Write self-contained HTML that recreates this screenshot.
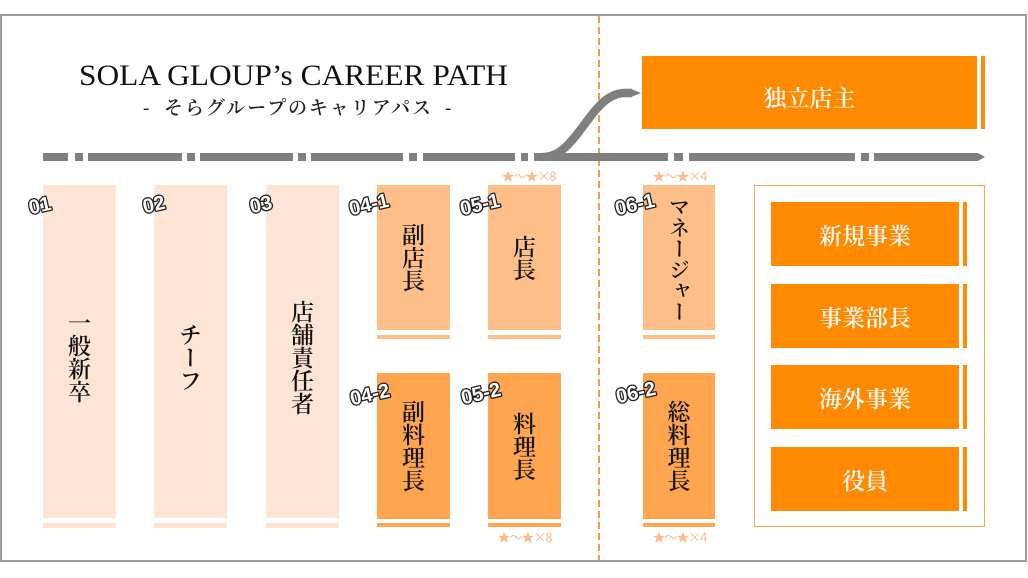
<!DOCTYPE html>
<html lang="ja">
<head>
<meta charset="utf-8">
<style>
  html,body{margin:0;padding:0;}
  body{width:1028px;height:578px;background:#fff;position:relative;overflow:hidden;
       font-family:"Liberation Serif","Noto Serif CJK SC",serif;}
  .frame{position:absolute;left:0;top:14px;width:1027px;height:548px;box-sizing:border-box;
         border:2px solid #9c9c9c;}
  .col{position:absolute;display:flex;align-items:center;justify-content:center;box-sizing:border-box;}
  .vt{writing-mode:vertical-rl;text-orientation:mixed;font-family:"Noto Serif CJK SC","Liberation Serif",serif;
      font-size:23px;color:#111;line-height:1;letter-spacing:0;font-weight:600;}
  .c0{background:#FDE4D5;}
  .c1{background:#FEBE88;}
  .c2{background:#FEA54F;}
  .ob{position:absolute;background:#FF8A00;display:flex;align-items:center;justify-content:center;
      color:#fff;font-family:"Noto Serif CJK SC","Liberation Serif",serif;font-size:23px;line-height:1;font-weight:600;}
  .bar{position:absolute;}
  svg{position:absolute;left:0;top:0;}
</style>
</head>
<body>
<div class="frame"></div>

<!-- columns 01-03 -->
<div class="col c0" style="left:43px;top:185px;width:73px;height:333px;padding-top:11px;"><span class="vt">一般新卒</span></div>
<div class="bar c0" style="left:43px;top:523px;width:73px;height:5px;"></div>
<div class="col c0" style="left:154px;top:185px;width:73px;height:333px;padding-top:11px;"><span class="vt">チーフ</span></div>
<div class="bar c0" style="left:154px;top:523px;width:73px;height:5px;"></div>
<div class="col c0" style="left:266px;top:185px;width:73px;height:333px;padding-top:11px;"><span class="vt">店舗責任者</span></div>
<div class="bar c0" style="left:266px;top:523px;width:73px;height:5px;"></div>

<!-- 04 -->
<div class="col c1" style="left:377px;top:185px;width:73px;height:145px;"><span class="vt">副店長</span></div>
<div class="bar c1" style="left:377px;top:335px;width:73px;height:4px;"></div>
<div class="col c2" style="left:377px;top:373px;width:73px;height:146px;"><span class="vt">副料理長</span></div>
<div class="bar c2" style="left:377px;top:523px;width:73px;height:4px;"></div>

<!-- 05 -->
<div class="col c1" style="left:488px;top:185px;width:73px;height:145px;"><span class="vt">店長</span></div>
<div class="bar c1" style="left:488px;top:335px;width:73px;height:4px;"></div>
<div class="col c2" style="left:488px;top:373px;width:73px;height:146px;"><span class="vt">料理長</span></div>
<div class="bar c2" style="left:488px;top:523px;width:73px;height:4px;"></div>

<!-- 06 -->
<div class="col c1" style="left:643px;top:185px;width:72px;height:145px;padding-top:3px;"><span class="vt" style="font-size:21px;">マネージャー</span></div>
<div class="bar c1" style="left:643px;top:335px;width:72px;height:4px;"></div>
<div class="col c2" style="left:643px;top:373px;width:72px;height:146px;"><span class="vt">総料理長</span></div>
<div class="bar c2" style="left:643px;top:523px;width:72px;height:4px;"></div>

<!-- 独立店主 -->
<div class="ob" style="left:642px;top:56px;width:335px;height:73px;padding-top:8px;box-sizing:border-box;">独立店主</div>
<div class="bar" style="left:981px;top:56px;width:4px;height:73px;background:#FF8A00;"></div>

<!-- right group -->
<div style="position:absolute;left:754px;top:185px;width:231px;height:342px;box-sizing:border-box;border:1.5px solid #F8A452;"></div>
<div class="ob" style="left:771px;top:202px;width:188px;height:64px;">新規事業</div>
<div class="bar" style="left:963px;top:202px;width:4px;height:64px;background:#FF8A00;"></div>
<div class="ob" style="left:771px;top:284px;width:188px;height:64px;">事業部長</div>
<div class="bar" style="left:963px;top:284px;width:4px;height:64px;background:#FF8A00;"></div>
<div class="ob" style="left:771px;top:365px;width:188px;height:64px;">海外事業</div>
<div class="bar" style="left:963px;top:365px;width:4px;height:64px;background:#FF8A00;"></div>
<div class="ob" style="left:771px;top:447px;width:188px;height:64px;">役員</div>
<div class="bar" style="left:963px;top:447px;width:4px;height:64px;background:#FF8A00;"></div>

<svg width="1028" height="578" viewBox="0 0 1028 578" xmlns="http://www.w3.org/2000/svg">
  <!-- dashed divider -->
  <line x1="599" y1="16" x2="599" y2="560" stroke="#F59B3F" stroke-width="2" stroke-dasharray="7 4"/>

  <!-- title -->
  <text x="79" y="85" font-family="Liberation Serif, serif" font-size="30" fill="#111" textLength="429" lengthAdjust="spacingAndGlyphs">SOLA GLOUP’s CAREER PATH</text>
  <text x="143" y="114" font-family="Liberation Serif, serif" font-size="19" fill="#222">-</text>
  <text x="164" y="114" font-family="Noto Serif CJK SC, serif" font-weight="600" font-size="19" fill="#222" textLength="267">そらグループのキャリアパス</text>
  <text x="445" y="114" font-family="Liberation Serif, serif" font-size="19" fill="#222">-</text>

  <!-- timeline -->
  <g fill="#7F7F7F">
    <rect x="43" y="153" width="25" height="8"/>
    <rect x="75" y="153" width="8" height="8"/>
    <rect x="88" y="153" width="94" height="8"/>
    <rect x="187" y="153" width="8" height="8"/>
    <rect x="200" y="153" width="93" height="8"/>
    <rect x="298" y="153" width="8" height="8"/>
    <rect x="311" y="153" width="92" height="8"/>
    <rect x="409" y="153" width="8" height="8"/>
    <rect x="423" y="153" width="92" height="8"/>
    <rect x="521" y="153" width="7" height="8"/>
    <rect x="534" y="153" width="134" height="8"/>
    <rect x="674" y="153" width="9" height="8"/>
    <rect x="689" y="153" width="166" height="8"/>
    <rect x="861" y="153" width="8" height="8"/>
    <polygon points="874,153 978,153 985,157 978,161 874,161"/>
    <polygon points="630,88.5 641,93 630,97.5"/>
  </g>
  <path d="M 543 157 C 578 157, 590 93, 625 93 L 632 93" fill="none" stroke="#7F7F7F" stroke-width="8.5"/>

  <!-- star ratings -->
  <g font-family="Noto Sans CJK JP, sans-serif" font-size="13" fill="#FDB987" text-anchor="middle">
    <text x="529" y="181" textLength="55">★〜★×8</text>
    <text x="525" y="542" textLength="55">★〜★×8</text>
    <text x="680" y="181" textLength="55">★〜★×4</text>
    <text x="680" y="542" textLength="55">★〜★×4</text>
  </g>

  <!-- number labels -->
  <g font-family="Liberation Sans, sans-serif" font-weight="bold" font-size="20" fill="#fff" stroke="#222" stroke-width="2.6" stroke-linejoin="round" paint-order="stroke" text-anchor="middle" dominant-baseline="central">
    <text x="40" y="206" transform="rotate(-13 40 206)">01</text>
    <text x="154" y="205" transform="rotate(-13 154 205)">02</text>
    <text x="261" y="205" transform="rotate(-13 261 205)">03</text>
    <text x="369" y="205" transform="rotate(-13 369 205)">04-1</text>
    <text x="480" y="205" transform="rotate(-13 480 205)">05-1</text>
    <text x="370" y="395" transform="rotate(-13 370 395)">04-2</text>
    <text x="481" y="394" transform="rotate(-13 481 394)">05-2</text>
    <text x="635" y="205" transform="rotate(-13 635 205)">06-1</text>
    <text x="636" y="393" transform="rotate(-13 636 393)">06-2</text>
  </g>
</svg>
</body>
</html>
